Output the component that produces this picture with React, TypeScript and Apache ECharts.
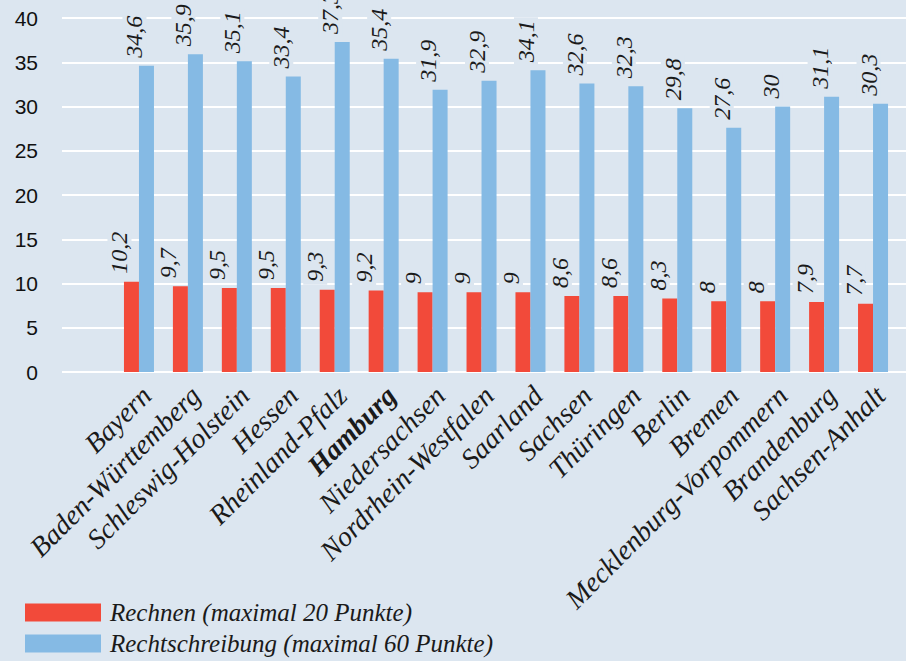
import React, { useEffect, useRef } from "react";
import * as echarts from "echarts";

const categories = [
  "Bayern",
  "Baden-Württemberg",
  "Schleswig-Holstein",
  "Hessen",
  "Rheinland-Pfalz",
  "Hamburg",
  "Niedersachsen",
  "Nordrhein-Westfalen",
  "Saarland",
  "Sachsen",
  "Thüringen",
  "Berlin",
  "Bremen",
  "Mecklenburg-Vorpommern",
  "Brandenburg",
  "Sachsen-Anhalt",
];
const rechnen = [10.2, 9.7, 9.5, 9.5, 9.3, 9.2, 9, 9, 9, 8.6, 8.6, 8.3, 8, 8, 7.9, 7.7];
const rechtschreibung = [34.6, 35.9, 35.1, 33.4, 37.3, 35.4, 31.9, 32.9, 34.1, 32.6, 32.3, 29.8, 27.6, 30, 31.1, 30.3];
const seriesNames = ["Rechnen (maximal 20 Punkte)", "Rechtschreibung (maximal 60 Punkte)"];
const yTicks = { min: 0, max: 40, interval: 5 };

const BG = "#dce6f0";
const RED = "#f24a3a";
const BLUE = "#85bae4";
const SERIF = "Liberation Serif, Times New Roman, serif";

export default function App() {
  const ref = useRef<HTMLDivElement>(null);
  useEffect(() => {
    if (!ref.current) return;
    const chart = echarts.init(ref.current, null, { renderer: "svg" });
    const valueLabel = {
      show: true,
      position: "top",
      rotate: 90,
      align: "left",
      verticalAlign: "middle",
      distance: 5,
      offset: [0, -12],
      fontFamily: SERIF,
      fontStyle: "italic",
      fontSize: 24,
      color: "#1a1a1a",
      backgroundColor: BG,
      padding: [0, 3, 0, 3],
      formatter: (p: any) => String(p.value).replace(".", ","),
    };
    const gridTop = 18;
    const gridHeight = 354;
    chart.setOption({
      animation: false,
      backgroundColor: BG,
      grid: [
        { left: 62, right: 0, top: gridTop, height: gridHeight },
        { left: 114.5, width: 783, top: gridTop, height: gridHeight },
        { left: 122, width: 783, top: gridTop, height: gridHeight },
      ],
      xAxis: [
        { type: "value", gridIndex: 0, min: 0, max: 1, show: false },
        {
          type: "category",
          gridIndex: 1,
          data: categories,
          axisLine: { show: false },
          axisTick: { show: false },
          axisLabel: { show: false },
        },
        {
          type: "category",
          gridIndex: 2,
          data: categories,
          axisLine: { show: false },
          axisTick: { show: false },
          axisLabel: {
            interval: 0,
            rotate: 45,
            margin: 19,
            fontFamily: SERIF,
            fontStyle: "italic",
            fontSize: 28,
            color: "#1a1a1a",
            formatter: (v: string) => (v === "Hamburg" ? "{b|" + v + "}" : v),
            rich: {
              b: {
                fontFamily: SERIF,
                fontStyle: "italic",
                fontWeight: "bold",
                fontSize: 28,
                color: "#1a1a1a",
              },
            },
          },
        },
      ],
      yAxis: [
        {
          type: "value",
          gridIndex: 0,
          min: yTicks.min,
          max: yTicks.max,
          interval: yTicks.interval,
          axisLine: { show: false },
          axisTick: { show: false },
          axisLabel: {
            margin: 24,
            fontFamily: "Liberation Sans, Arial, sans-serif",
            fontSize: 21,
            color: "#111",
          },
          splitLine: { show: true, lineStyle: { color: "#ffffff", width: 2 } },
        },
        {
          type: "value",
          gridIndex: 1,
          min: yTicks.min,
          max: yTicks.max,
          interval: yTicks.interval,
          show: false,
          splitLine: { show: false },
        },
        {
          type: "value",
          gridIndex: 2,
          min: yTicks.min,
          max: yTicks.max,
          show: false,
          splitLine: { show: false },
        },
      ],
      legend: {
        orient: "vertical",
        left: 25,
        top: 600,
        padding: 0,
        icon: "rect",
        itemWidth: 76,
        itemHeight: 18,
        itemGap: 6,
        data: seriesNames,
        textStyle: {
          fontFamily: SERIF,
          fontStyle: "italic",
          fontSize: 25,
          lineHeight: 24,
          color: "#1a1a1a",
          padding: [0, 0, 0, 4],
        },
      },
      series: [
        {
          name: seriesNames[0],
          type: "bar",
          xAxisIndex: 1,
          yAxisIndex: 1,
          data: rechnen,
          barWidth: 15,
          barGap: "0%",
          itemStyle: { color: RED },
          label: valueLabel,
        },
        {
          name: seriesNames[1],
          type: "bar",
          xAxisIndex: 1,
          yAxisIndex: 1,
          data: rechtschreibung,
          barWidth: 15,
          barGap: "0%",
          itemStyle: { color: BLUE },
          label: valueLabel,
        },
      ],
    });
    return () => chart.dispose();
  }, []);
  return (
    <div
      ref={ref}
      style={{ position: "absolute", left: 0, top: 0, width: 906, height: 661 }}
    />
  );
}
